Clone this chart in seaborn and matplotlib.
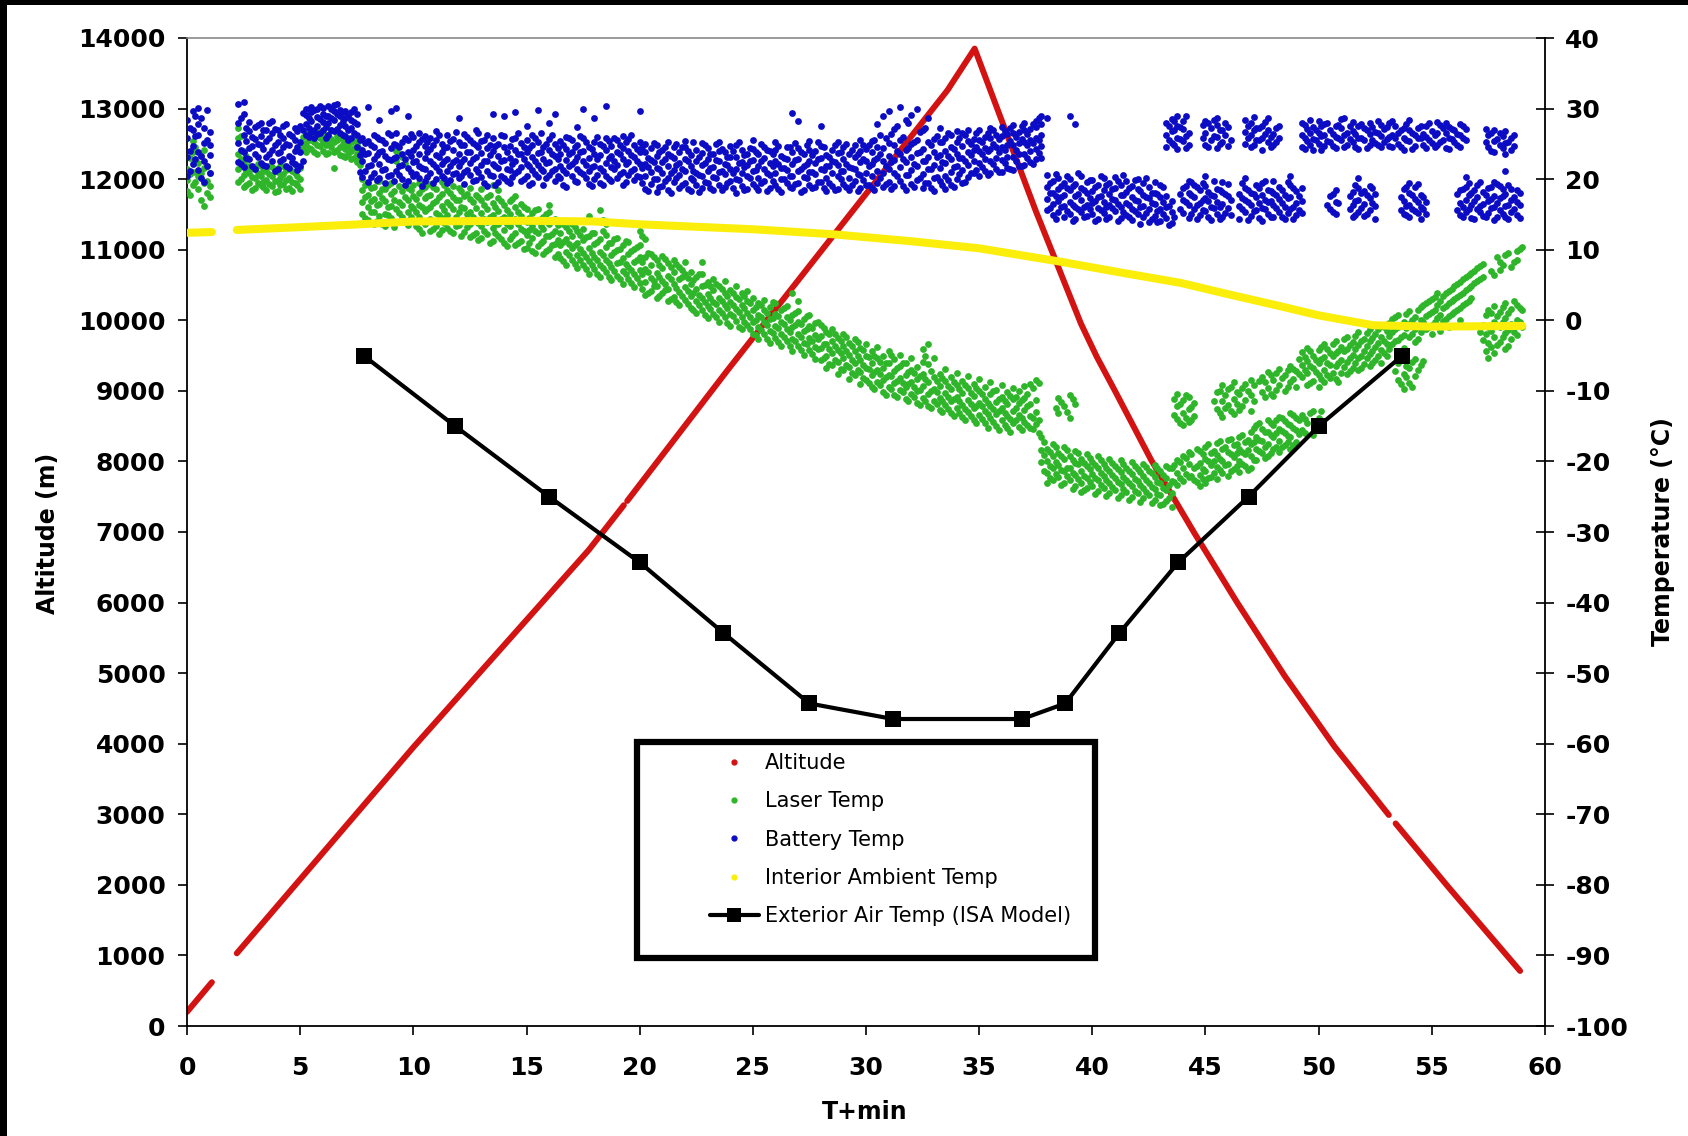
import matplotlib
matplotlib.use("Agg")
import matplotlib.pyplot as plt
import numpy as np
import pandas as pd
import seaborn as sns
from matplotlib.lines import Line2D
from matplotlib.patches import Rectangle

# ---------------- data ----------------
# Altitude (m) vs T+min ; seg marks breaks in the recorded trace
alt_time = [0.0, 1.1, 2.2, 10.0, 17.75, 19.3, 19.45, 23.9, 33.6, 34.8, 37.5, 39.5, 40.2,
            41.0, 42.6, 44.5, 46.4, 48.5, 50.7, 53.1, 53.4, 55.7, 58.9]
alt_m = [200, 620, 1030, 3950, 6745, 7380, 7440, 9300, 13260, 13850, 11550, 9950, 9480,
         9000, 8020, 6990, 6000, 4960, 3960, 2990, 2870, 1980, 780]
alt_seg = [0, 0, 1, 1, 1, 1, 2, 2, 2, 2, 2, 2, 2, 2, 2, 2, 2, 2, 2, 2, 3, 3, 3]

# Interior ambient temperature (deg C)
amb_time = [0.0, 1.1, 2.2, 5.0, 7.0, 10.0, 15.0, 18.0, 20.0, 25.0, 28.5, 32.0, 35.0,
            38.6, 41.2, 43.9, 46.0, 48.3, 50.0, 52.4, 55.0, 59.0]
amb_temp = [12.4, 12.5, 12.8, 13.2, 13.5, 14.0, 14.1, 14.0, 13.6, 12.9, 12.2, 11.2, 10.2,
            8.3, 6.8, 5.3, 3.7, 2.0, 0.7, -0.7, -0.9, -0.8]
amb_seg = [0, 0] + [1] * 20

# Exterior air temperature, ISA model (deg C)
isa_time = [7.8, 11.85, 16.0, 20.0, 23.7, 27.5, 31.2, 36.9, 38.8, 41.2, 43.8, 46.9, 50.0, 53.7]
isa_temp = [-5, -15, -25, -34.3, -44.3, -54.3, -56.5, -56.5, -54.3, -44.3, -34.3, -25, -15, -5]

# Battery temperature readings: (T+min, [readings in deg C])
battery_rows = [
    (0.00, [20.5, 23.2, 25.8, 28.4]), (0.25, [22.1, 24.7, 26.9, 29.6]),
    (0.50, [21.3, 23.9, 26.2, 27.8, 30.1]), (0.75, [19.6, 22.6, 25.1, 27.3]),
    (1.00, [20.8, 23.4, 24.9, 26.7]),
    (2.25, [22.4, 25.1, 27.9, 30.6]), (2.50, [21.7, 23.8, 26.3, 29.2, 31.0]),
    (2.75, [22.9, 24.4, 26.8, 28.1]), (3.00, [21.5, 23.6, 25.7, 27.4]),
    (3.25, [22.3, 24.8, 26.1, 27.9]), (3.50, [21.9, 23.2, 25.4, 27.0]),
    (3.75, [22.6, 24.1, 26.5, 28.3]), (4.00, [21.4, 23.7, 25.2, 26.9]),
    (4.25, [22.8, 24.5, 25.9, 27.6]), (4.50, [21.6, 23.3, 24.9, 26.4]),
    (4.75, [22.2, 24.0, 25.6, 27.2]), (5.00, [21.8, 23.9, 25.3, 27.5]),
    (5.25, [26.2, 27.8, 29.1, 30.0]), (5.50, [26.7, 28.3, 29.5, 30.2]),
    (5.75, [26.4, 27.6, 28.8, 29.9]), (6.00, [26.9, 28.1, 29.3, 30.1]),
    (6.25, [26.3, 27.9, 29.0, 30.3]), (6.50, [26.8, 28.4, 29.6, 30.5]),
    (6.75, [26.5, 27.7, 28.9, 29.8]), (7.00, [26.1, 27.5, 28.6, 29.7]),
    (7.25, [25.8, 27.2, 28.4, 29.5]), (7.50, [24.6, 26.3, 27.8, 29.2]),
    (7.75, [20.3, 22.5, 24.1, 25.9]), (8.00, [19.6, 21.8, 23.7, 25.4, 30.2]),
    (8.25, [20.9, 22.9, 24.6, 26.3]), (8.50, [20.1, 22.2, 23.9, 25.7, 28.4]),
    (8.75, [19.4, 21.5, 23.3, 25.1]), (9.00, [20.6, 22.7, 24.4, 26.2, 29.6]),
    (9.25, [21.2, 23.1, 24.8, 26.5, 30.1]), (9.50, [20.0, 22.0, 23.6, 25.3]),
    (9.75, [19.8, 21.6, 23.8, 25.6, 29.0]), (10.00, [20.5, 22.4, 24.2, 26.0]),
    (10.25, [20.2, 21.9, 23.5, 25.2, 26.6]), (10.50, [19.7, 21.4, 23.0, 24.7, 26.1]),
    (10.75, [20.8, 22.6, 24.3, 25.8]), (11.00, [20.0, 21.7, 23.4, 25.5, 26.8]),
    (11.25, [20.4, 22.1, 23.8, 25.0]), (11.50, [19.5, 21.2, 22.8, 24.6, 26.3]),
    (11.75, [20.7, 22.4, 24.1, 25.7]), (12.00, [20.1, 21.8, 23.6, 25.3, 28.6]),
    (12.25, [19.3, 21.0, 22.9, 24.8, 26.4]), (12.50, [20.6, 22.3, 23.9, 25.6]),
    (12.75, [19.9, 21.5, 23.2, 24.9, 27.0]), (13.00, [20.3, 22.0, 23.7, 25.4]),
    (13.25, [19.0, 21.1, 22.6, 24.4, 26.2]), (13.50, [20.5, 22.2, 24.0, 25.8, 29.3]),
    (13.75, [19.6, 21.6, 23.3, 25.0]), (14.00, [20.2, 22.7, 24.5, 26.1, 28.9]),
    (14.25, [19.4, 21.3, 23.0, 24.7]), (14.50, [20.8, 22.5, 24.2, 25.9, 29.5]),
    (14.75, [19.8, 21.7, 23.5, 25.1]), (15.00, [20.4, 22.1, 23.8, 25.5, 27.5]),
    (15.25, [19.5, 21.3, 23.1, 24.8, 26.2]), (15.50, [20.3, 22.0, 23.7, 25.3, 29.8]),
    (15.75, [19.2, 21.1, 22.9, 24.5]), (16.00, [20.6, 22.4, 24.1, 25.7, 28.0]),
    (16.25, [19.7, 21.5, 23.3, 25.0, 29.2]), (16.50, [20.1, 21.9, 23.6, 25.4]),
    (16.75, [18.9, 20.8, 22.7, 24.3, 26.0]), (17.00, [20.4, 22.2, 23.9, 25.6]),
    (17.25, [19.6, 21.4, 23.2, 24.9, 27.4]), (17.50, [20.7, 22.5, 24.0, 25.8, 29.9]),
    (17.75, [19.3, 21.2, 23.0, 24.6]), (18.00, [20.0, 21.8, 23.5, 25.2, 28.7]),
    (18.25, [19.5, 21.6, 23.4, 25.0]), (18.50, [20.5, 22.3, 24.2, 25.9, 30.3]),
    (18.75, [19.8, 21.7, 23.3, 24.7]), (19.00, [20.2, 22.0, 23.8, 25.5]),
    (19.25, [19.1, 21.0, 22.8, 24.4, 26.1]), (19.50, [20.6, 22.4, 24.0, 25.7]),
    (19.75, [19.9, 21.5, 23.1, 24.8]), (20.00, [20.3, 22.1, 23.9, 25.3, 29.7]),
    (20.25, [18.6, 20.4, 22.1, 23.8, 25.0]), (20.50, [19.3, 21.0, 22.7, 24.4]),
    (20.75, [18.2, 20.0, 21.6, 23.3, 24.8]), (21.00, [19.0, 20.8, 22.4, 24.1]),
    (21.25, [18.5, 20.2, 21.9, 23.6, 25.2]), (21.50, [19.6, 21.3, 23.0, 24.6]),
    (21.75, [18.8, 20.6, 22.3, 23.9]), (22.00, [19.4, 21.1, 22.8, 24.5, 25.4]),
    (22.25, [18.3, 20.1, 21.8, 23.4]), (22.50, [19.1, 20.9, 22.6, 24.2]),
    (22.75, [18.7, 20.5, 22.0, 23.7, 25.1]), (23.00, [19.5, 21.2, 22.9, 24.4]),
    (23.25, [18.4, 20.3, 21.7, 23.5]), (23.50, [19.2, 21.0, 22.5, 24.0, 25.3]),
    (23.75, [18.9, 20.7, 22.2, 23.8]), (24.00, [19.7, 21.4, 23.1, 24.7]),
    (24.25, [18.1, 20.0, 21.5, 23.2, 24.9]), (24.50, [19.0, 20.8, 22.4, 24.1]),
    (24.75, [18.6, 20.4, 22.0, 23.6]), (25.00, [19.3, 21.1, 22.7, 24.3, 25.5]),
    (25.25, [18.5, 20.2, 21.9, 23.5]), (25.50, [19.8, 21.5, 23.0, 24.6]),
    (25.75, [18.8, 20.6, 22.3, 24.0]), (26.00, [19.1, 20.9, 22.5, 24.2, 25.2]),
    (26.25, [18.2, 20.0, 21.6, 23.3]), (26.50, [19.5, 21.3, 22.9, 24.5]),
    (26.75, [18.7, 20.5, 22.1, 23.8, 29.4]), (27.00, [19.4, 21.1, 22.8, 24.4, 28.3]),
    (27.25, [18.4, 20.3, 21.9, 23.6]), (27.50, [19.2, 21.0, 22.6, 24.1, 25.4]),
    (27.75, [18.9, 20.7, 22.3, 24.0]), (28.00, [19.6, 21.4, 23.0, 24.7, 27.6]),
    (28.25, [18.3, 20.1, 21.8, 23.4]), (28.50, [19.0, 20.8, 22.5, 24.2]),
    (28.75, [18.6, 20.4, 22.0, 23.7, 25.3]), (29.00, [19.3, 21.2, 22.9, 24.5]),
    (29.25, [18.5, 20.2, 21.7, 23.5]), (29.50, [19.7, 21.5, 23.1, 24.8]),
    (29.75, [18.8, 20.6, 22.4, 24.0, 25.6]), (30.00, [19.1, 20.9, 22.6, 24.3]),
    (30.25, [18.7, 20.5, 22.2, 23.9, 25.4]), (30.50, [19.4, 21.2, 23.0, 24.6, 27.8]),
    (30.75, [18.9, 20.8, 22.6, 24.4, 28.9]), (31.00, [19.6, 21.5, 23.3, 25.1, 29.6]),
    (31.25, [19.0, 20.9, 22.7, 24.8, 27.1]), (31.50, [19.8, 21.7, 23.6, 25.5, 30.2]),
    (31.75, [18.5, 20.6, 22.4, 24.2, 28.4]), (32.00, [19.3, 21.3, 23.1, 25.0, 29.1]),
    (32.25, [19.9, 21.8, 23.7, 25.6, 30.0]), (32.50, [18.8, 20.7, 22.5, 24.3, 26.9]),
    (32.75, [19.5, 21.4, 23.2, 25.2, 28.6]), (33.00, [18.3, 20.2, 22.0, 23.8, 25.7]),
    (33.25, [19.7, 21.6, 23.4, 25.3, 27.3]), (33.50, [18.6, 20.5, 22.3, 24.0, 25.9]),
    (33.75, [19.2, 21.0, 22.8, 24.6, 26.2]), (34.00, [20.0, 21.9, 23.5, 25.2, 26.8]),
    (34.25, [19.4, 21.3, 23.0, 24.7, 26.5]), (34.50, [20.3, 22.0, 23.8, 25.4, 27.0]),
    (34.75, [20.8, 22.5, 24.1, 25.7]), (35.00, [20.5, 22.3, 24.0, 25.6, 26.9]),
    (35.25, [21.1, 22.8, 24.4, 26.0]), (35.50, [20.9, 22.6, 24.3, 25.9, 27.2]),
    (35.75, [21.4, 23.0, 24.6, 26.2]), (36.00, [21.0, 22.7, 24.5, 26.1, 27.4]),
    (36.25, [21.6, 23.2, 24.8, 26.4]), (36.50, [21.3, 23.1, 24.9, 26.6, 27.7]),
    (36.75, [21.8, 23.5, 25.1, 26.7]), (37.00, [22.0, 23.6, 25.3, 26.9, 28.0]),
    (37.25, [22.4, 24.0, 25.6, 27.1]), (37.50, [22.8, 24.3, 25.8, 27.4, 28.3]),
    (37.75, [23.0, 24.7, 26.2, 27.8, 29.0]),
    (38.00, [15.6, 17.2, 18.9, 20.6, 28.6]), (38.25, [14.9, 16.5, 18.1, 19.8]),
    (38.50, [15.3, 16.9, 18.6, 20.2]), (38.75, [14.6, 16.2, 17.8, 19.5]),
    (39.00, [15.1, 16.7, 18.4, 20.0, 28.9]), (39.25, [14.4, 16.0, 17.6, 19.3, 27.8]),
    (39.50, [15.4, 17.0, 18.7, 20.4]), (39.75, [14.8, 16.4, 18.0, 19.6]),
    (40.00, [15.0, 16.6, 18.3, 19.9]), (40.25, [14.3, 15.9, 17.5, 19.1]),
    (40.50, [15.2, 16.8, 18.5, 20.1]), (40.75, [14.7, 16.3, 17.9, 19.4]),
    (41.00, [15.5, 17.1, 18.8, 20.3]), (41.25, [14.5, 16.1, 17.7, 19.2]),
    (41.50, [14.9, 16.6, 18.2, 19.7]), (41.75, [14.2, 15.8, 17.4, 19.0]),
    (42.00, [15.1, 16.9, 18.6, 20.0]), (42.25, [14.6, 16.2, 17.8, 19.5]),
    (42.50, [13.9, 15.7, 17.3, 18.9]), (42.75, [14.8, 16.5, 18.1, 19.6]),
    (43.00, [14.1, 15.8, 17.5, 19.1]), (43.25, [14.5, 16.0, 17.6, 24.6, 26.3, 27.9]),
    (43.50, [13.8, 15.4, 16.9, 25.1, 26.8, 28.5]), (43.75, [24.3, 25.9, 27.6, 29.0]),
    (44.00, [15.2, 17.0, 18.7, 25.4, 27.1, 28.2]), (44.25, [14.5, 16.3, 18.1, 19.8, 24.8, 26.5]),
    (44.50, [15.8, 17.5, 19.2]), (44.75, [14.9, 16.6, 18.4]),
    (45.00, [15.5, 17.3, 19.0, 20.4, 24.9, 26.6, 28.2]), (45.25, [14.2, 16.0, 17.8, 25.5, 27.3]),
    (45.50, [15.1, 16.8, 18.6, 24.4, 26.0, 27.7, 28.7]), (45.75, [14.7, 16.5, 18.2, 19.6, 25.2, 26.9]),
    (46.00, [15.9, 17.6, 19.3, 24.7, 27.4]), (46.50, [14.4, 16.2, 17.9]),
    (46.75, [15.3, 17.1, 18.8, 20.2, 25.0, 26.7, 28.4]), (47.00, [14.8, 16.4, 18.0, 24.5, 26.2, 27.9]),
    (47.25, [15.6, 17.4, 19.1, 25.6, 27.2]), (47.50, [14.1, 15.9, 17.7, 19.4, 24.2, 25.8, 27.5]),
    (47.75, [15.0, 16.7, 18.5, 25.3, 27.0, 28.6]), (48.00, [14.6, 16.3, 18.1, 19.7, 24.8, 26.4]),
    (48.25, [15.4, 17.2, 18.9, 25.9, 27.6]), (48.50, [14.3, 16.1, 17.8]),
    (48.75, [15.7, 17.5, 19.2, 20.5]), (49.00, [14.9, 16.6, 18.3]),
    (49.25, [15.2, 16.9, 18.7, 24.6, 26.3, 28.0]), (49.50, [25.4, 27.1]),
    (49.75, [24.1, 25.7, 27.4]), (50.00, [25.0, 26.6, 28.3]),
    (50.25, [24.7, 26.2, 27.8]), (50.50, [15.8, 17.6, 25.3, 26.9]),
    (50.75, [15.0, 16.8, 18.5, 24.4, 26.0, 27.6]), (51.00, [25.6, 27.3, 28.5]),
    (51.25, [24.9, 26.5]), (51.50, [14.6, 16.4, 18.2, 25.2, 26.8, 28.1]),
    (51.75, [15.3, 17.0, 18.8, 20.1, 24.3, 25.9, 27.5]), (52.00, [14.8, 16.5, 18.3, 25.5, 27.2]),
    (52.25, [15.6, 17.3, 19.0, 24.8, 26.4, 28.0]), (52.50, [14.4, 16.2, 17.9, 25.1, 26.7]),
    (52.75, [24.5, 26.1, 27.7]), (53.00, [25.7, 27.4]),
    (53.25, [24.6, 26.3, 28.2]), (53.50, [25.0, 26.6]),
    (53.75, [15.1, 16.9, 18.6, 24.2, 25.8, 27.3]), (54.00, [14.7, 16.4, 18.1, 19.5, 25.4, 27.0, 28.4]),
    (54.25, [15.5, 17.2, 18.9, 24.7, 26.2]), (54.50, [14.3, 16.0, 17.7, 25.8, 27.5]),
    (54.75, [15.0, 16.7, 24.4, 26.0, 27.6]), (55.00, [25.1, 26.8]),
    (55.25, [24.9, 26.5, 28.1]), (55.50, [25.6, 27.2]),
    (55.75, [24.3, 25.9, 27.4]), (56.00, [25.2, 26.9]),
    (56.25, [14.9, 16.6, 18.4, 24.6, 26.3, 27.8]), (56.50, [15.4, 17.1, 18.9, 20.3, 25.5, 27.1]),
    (56.75, [14.5, 16.3, 18.0]), (57.00, [15.7, 17.4, 19.1]),
    (57.25, [14.8, 16.5, 18.2]), (57.50, [15.2, 16.9, 18.7, 24.5, 26.2]),
    (57.75, [14.2, 16.0, 17.6, 19.6, 23.8, 25.4, 27.0]), (58.00, [15.6, 17.3, 19.0, 24.9, 26.5]),
    (58.25, [14.6, 16.2, 17.9, 21.1, 23.5, 25.1, 26.8]), (58.50, [15.3, 17.0, 18.6, 24.2, 25.8]),
    (58.75, [14.9, 16.7, 18.4]),
]

# Further battery readings logged between the rows above
battery_rows_b = [
    (0.125, [24.0, 27.3, 21.2]), (0.375, [26.1, 22.9, 29.0]), (0.625, [23.3, 28.7, 20.2]),
    (0.875, [25.6, 21.9, 29.8]),
    (2.375, [24.2, 28.6, 22.1]), (2.625, [25.4, 27.3, 23.0]), (2.875, [21.8, 26.0, 24.7]),
    (3.125, [23.1, 27.7, 25.0]), (3.375, [22.0, 24.3, 26.9]), (3.625, [23.5, 25.9, 28.0]),
    (3.875, [21.2, 24.8, 27.1]), (4.125, [22.5, 26.3, 23.9]), (4.375, [21.9, 25.0, 27.8]),
    (4.625, [23.0, 26.1, 22.4]), (4.875, [24.6, 21.3, 26.8]), (5.125, [27.0, 29.4, 22.6]),
    (5.375, [27.3, 28.7, 26.0]), (5.625, [27.0, 29.8, 25.8]), (5.875, [28.5, 26.6, 30.4]),
    (6.125, [27.4, 29.0, 25.9]), (6.375, [28.6, 26.9, 30.0]), (6.625, [27.1, 29.2, 30.7]),
    (6.875, [28.2, 26.2, 29.5]), (7.125, [27.0, 28.9, 25.5]), (7.375, [26.6, 28.1, 29.9]),
    (7.625, [23.4, 25.5, 21.0]),
    (7.875, [21.1, 23.6, 25.1]), (8.125, [22.0, 24.9, 20.3]), (8.375, [19.9, 23.4, 26.0]),
    (8.625, [21.3, 24.0, 25.5]), (8.875, [20.4, 22.8, 26.6]), (9.125, [19.7, 23.0, 25.0]),
    (9.375, [21.9, 24.5, 20.6]), (9.625, [22.8, 25.8, 19.2]), (9.875, [21.0, 23.3, 26.4]),
    (10.125, [20.7, 24.7, 22.6]), (10.375, [21.6, 25.7, 19.0]), (10.625, [20.3, 23.9, 25.2]),
    (10.875, [22.2, 24.9, 19.4]), (11.125, [21.1, 23.1, 26.2]), (11.375, [20.2, 24.4, 22.5]),
    (11.625, [21.8, 25.4, 19.9]), (11.875, [20.9, 22.7, 26.7]), (12.125, [22.4, 24.9, 20.4]),
    (12.375, [21.3, 23.9, 26.0]), (12.625, [19.7, 22.8, 25.1]), (12.875, [21.0, 24.5, 26.5]),
    (13.125, [22.5, 25.6, 19.5]), (13.375, [20.6, 23.4, 24.9]), (13.625, [21.9, 24.7, 19.1]),
    (13.875, [20.4, 22.5, 26.3]), (14.125, [21.5, 23.9, 19.8]), (14.375, [22.1, 25.7, 20.3]),
    (14.625, [21.2, 23.6, 26.6]), (14.875, [20.0, 22.9, 24.6]), (15.125, [21.8, 24.4, 19.2]),
    (15.375, [20.7, 22.6, 25.9]), (15.625, [21.4, 23.9, 26.5]), (15.875, [20.1, 22.3, 25.0]),
    (16.125, [21.2, 23.5, 26.3]), (16.375, [20.4, 22.8, 24.4]), (16.625, [19.2, 21.3, 24.8]),
    (16.875, [21.8, 23.6, 25.9]), (17.125, [19.8, 22.6, 24.5]), (17.375, [21.0, 23.8, 26.1]),
    (17.625, [20.1, 22.0, 25.2]), (17.875, [21.7, 24.3, 19.0]), (18.125, [20.6, 22.8, 26.0]),
    (18.375, [21.2, 24.7, 19.2]), (18.625, [20.0, 23.0, 25.4]), (18.875, [21.4, 22.6, 25.9]),
    (19.125, [20.7, 23.6, 24.9]), (19.375, [19.6, 22.2, 25.3]), (19.625, [21.1, 23.4, 26.2]),
    (19.875, [20.5, 22.6, 24.3]),
    (20.125, [19.4, 21.6, 24.6]), (20.375, [18.3, 21.7, 23.0]), (20.625, [20.0, 22.4, 25.1]),
    (20.875, [18.9, 21.4, 23.9]), (21.125, [19.8, 22.9, 24.5]), (21.375, [18.1, 20.9, 23.3]),
    (21.625, [20.2, 22.0, 25.0]), (21.875, [19.2, 21.5, 24.6]), (22.125, [18.6, 22.5, 24.0]),
    (22.375, [19.9, 21.2, 25.3]), (22.625, [18.2, 20.6, 23.2]), (22.875, [19.6, 22.3, 24.8]),
    (23.125, [18.8, 21.6, 23.6]), (23.375, [20.1, 22.7, 25.0]), (23.625, [18.5, 21.1, 24.3]),
    (23.875, [19.4, 22.0, 23.1]), (24.125, [18.7, 20.9, 24.0]), (24.375, [19.9, 22.3, 25.2]),
    (24.625, [18.4, 21.7, 23.4]), (24.875, [20.2, 22.5, 24.4]), (25.125, [18.9, 21.3, 23.8]),
    (25.375, [19.5, 22.6, 25.0]), (25.625, [18.3, 20.8, 24.2]), (25.875, [19.7, 21.9, 23.6]),
    (26.125, [18.6, 22.2, 24.7]), (26.375, [20.0, 21.6, 23.0]), (26.625, [18.9, 20.5, 24.6]),
    (26.875, [19.3, 22.7, 25.1]), (27.125, [18.2, 21.4, 23.9]), (27.375, [20.1, 22.1, 24.8]),
    (27.625, [18.7, 21.0, 23.4]), (27.875, [19.6, 22.9, 25.3]), (28.125, [18.8, 21.3, 24.5]),
    (28.375, [19.5, 21.9, 23.2]), (28.625, [18.4, 22.4, 24.9]), (28.875, [20.0, 21.1, 23.8]),
    (29.125, [18.9, 22.2, 25.0]), (29.375, [19.2, 21.6, 24.2]), (29.625, [18.3, 20.7, 23.5]),
    (29.875, [19.9, 22.8, 24.8]),
    (30.125, [19.2, 21.9, 24.9]), (30.375, [18.4, 22.7, 25.6]), (30.625, [20.1, 23.6, 26.2]),
    (30.875, [19.3, 21.8, 25.9]), (31.125, [18.6, 22.4, 26.4]), (31.375, [20.4, 24.0, 27.5]),
    (31.625, [19.0, 22.9, 26.0]), (31.875, [20.6, 24.4, 27.9]), (32.125, [18.9, 22.1, 25.3]),
    (32.375, [20.2, 23.8, 26.7]), (32.625, [19.4, 22.6, 27.2]), (32.875, [18.7, 21.5, 24.9]),
    (33.125, [20.3, 23.1, 26.1]), (33.375, [19.1, 22.4, 25.2]), (33.625, [19.9, 23.3, 26.6]),
    (33.875, [18.9, 21.7, 24.3]), (34.125, [20.7, 23.0, 25.9]), (34.375, [19.6, 22.6, 26.2]),
    (34.625, [20.9, 23.4, 25.0]), (34.875, [21.3, 24.6, 26.5]),
    (35.125, [21.7, 23.5, 25.3]), (35.375, [20.6, 24.0, 26.6]), (35.625, [22.1, 25.0, 27.0]),
    (35.875, [21.0, 23.8, 25.7]), (36.125, [22.3, 24.1, 26.8]), (36.375, [21.5, 25.4, 27.3]),
    (36.625, [22.5, 24.2, 26.0]), (36.875, [21.9, 25.7, 27.5]), (37.125, [23.0, 24.9, 26.4]),
    (37.375, [22.2, 25.1, 27.8]), (37.625, [23.7, 25.5, 28.6]),
    (38.125, [15.9, 18.0, 19.4]), (38.375, [14.3, 17.6, 20.7]), (38.625, [16.0, 17.4, 19.0]),
    (38.875, [15.5, 18.8, 20.5]), (39.125, [14.1, 16.4, 19.0]), (39.375, [15.8, 17.9, 20.8]),
    (39.625, [14.6, 16.1, 18.5]), (39.875, [15.7, 17.3, 19.9]), (40.125, [14.0, 16.9, 18.9]),
    (40.375, [15.6, 17.6, 20.5]), (40.625, [14.4, 16.0, 19.2]), (40.875, [15.9, 17.2, 18.6]),
    (41.125, [14.1, 16.5, 19.7]), (41.375, [15.3, 17.8, 20.6]), (41.625, [14.6, 16.3, 18.7]),
    (41.875, [15.5, 17.0, 19.9]), (42.125, [13.7, 16.0, 18.3]), (42.375, [15.2, 17.4, 20.2]),
    (42.625, [14.3, 16.6, 18.0]), (42.875, [13.9, 15.5, 17.9]), (43.125, [15.1, 16.8, 18.9]),
    (43.375, [13.5, 16.2, 25.5, 27.6]), (43.625, [24.8, 26.9, 28.3, 14.6]),
    (43.875, [25.7, 27.4, 15.8, 17.9]), (44.125, [24.4, 26.1, 28.9, 16.7, 19.0]),
    (44.375, [15.1, 17.8, 19.6]), (44.625, [14.4, 16.4, 18.9]),
    (44.875, [15.6, 17.0, 19.5, 25.8, 27.7]), (45.125, [14.7, 16.9, 18.2, 24.5, 27.9]),
    (45.375, [15.9, 17.6, 19.8, 26.1, 28.4]), (45.625, [14.3, 16.1, 18.5, 25.0, 27.0]),
    (45.875, [15.2, 17.9, 26.3, 28.0]), (46.125, [14.9, 17.1, 25.5]),
    (46.625, [15.7, 17.3, 19.5]), (46.875, [14.2, 16.8, 18.4, 25.9, 27.6]),
    (47.125, [15.5, 17.9, 24.9, 26.9, 28.8]), (47.375, [14.5, 16.6, 18.7, 25.5, 27.3]),
    (47.625, [15.8, 17.0, 19.8, 26.4, 28.1]), (47.875, [14.7, 16.9, 18.3, 24.6, 26.0]),
    (48.125, [15.9, 17.7, 25.3, 27.2]), (48.375, [14.6, 16.6, 18.5]),
    (48.625, [15.2, 17.3, 19.6]), (48.875, [14.4, 16.1, 18.8]), (49.125, [15.6, 17.6]),
    (49.375, [25.8, 27.7, 24.3]), (49.625, [24.9, 26.6, 28.4]), (49.875, [25.6, 27.0]),
    (50.125, [24.2, 26.1, 27.5]), (50.375, [25.4, 28.0, 16.4]), (50.625, [24.7, 26.4, 15.3, 17.9]),
    (50.875, [25.9, 27.7, 16.6]), (51.125, [24.5, 26.2, 28.6]),
    (51.375, [25.7, 27.5, 15.8, 17.6]), (51.625, [24.6, 26.4, 14.9, 16.9, 19.2]),
    (51.875, [25.9, 27.8, 15.9, 18.1]), (52.125, [24.4, 26.9, 15.1, 17.7]),
    (52.375, [25.6, 27.4, 16.6, 18.8]), (52.625, [24.9, 26.5, 28.3]), (52.875, [25.3, 27.1]),
    (53.125, [24.7, 26.0, 27.9]), (53.375, [25.8, 27.6]), (53.625, [24.5, 26.9, 15.6, 17.5]),
    (53.875, [25.5, 27.8, 14.9, 16.2, 18.9]), (54.125, [24.3, 26.6, 15.8, 17.8]),
    (54.375, [25.9, 27.2, 15.2, 16.8, 19.3]), (54.625, [24.8, 26.4, 15.7, 17.4]),
    (54.875, [25.6, 27.9]), (55.125, [24.6, 26.2]), (55.375, [25.3, 27.7]),
    (55.625, [24.4, 26.6, 28.0]), (55.875, [25.7, 27.1]), (56.125, [24.9, 26.4, 15.6, 17.9]),
    (56.375, [25.8, 27.5, 14.6, 16.0, 18.6]), (56.625, [15.8, 17.7, 19.4]),
    (56.875, [14.4, 16.9, 18.5]), (57.125, [15.4, 16.2, 19.6]), (57.375, [14.6, 17.8, 25.3, 27.1]),
    (57.625, [15.9, 17.2, 18.9, 24.0, 26.6]), (57.875, [14.7, 16.6, 19.3, 25.7]),
    (58.125, [15.1, 17.6, 18.6, 24.4, 26.1]), (58.375, [14.3, 16.4, 19.2, 25.2]),
    (58.625, [15.7, 17.5, 24.7, 26.3]), (58.875, [14.5, 16.3, 18.1]),
]

# Laser temperature readings: (T+min, [readings in deg C])
laser_rows = [
    (0.00, [18.3, 19.9, 21.5]), (0.25, [19.2, 21.0, 23.8, 25.4]), (0.50, [18.6, 20.4, 22.3]),
    (0.75, [16.2, 19.5, 21.6, 24.1]), (1.00, [17.4, 19.0, 20.8]),
    (2.25, [19.6, 21.4, 23.5, 25.8, 27.2]), (2.50, [18.9, 20.6, 22.4, 24.0]),
    (2.75, [19.4, 20.8, 21.9]), (3.00, [18.7, 20.2, 21.5]), (3.25, [19.2, 20.5, 21.8]),
    (3.50, [18.5, 19.9, 21.2]), (3.75, [19.0, 20.4, 21.7]), (4.00, [18.3, 19.7, 21.0]),
    (4.25, [19.3, 20.7, 21.9]), (4.50, [18.8, 20.1, 21.4]), (4.75, [19.5, 20.9, 22.1]),
    (5.00, [18.6, 20.0, 21.6]),
    (5.25, [23.8, 25.1, 26.4]), (5.50, [24.3, 25.6, 26.8]), (5.75, [23.5, 24.9, 26.2]),
    (6.00, [24.0, 25.3, 26.5]), (6.25, [23.7, 25.0, 26.3]), (6.50, [23.9, 25.2, 21.6]),
    (6.75, [23.4, 24.6, 25.8]), (7.00, [23.1, 24.3, 25.5]), (7.25, [22.8, 24.0, 25.2]),
    (7.50, [22.4, 23.6, 24.8]),
    (7.75, [15.1, 16.8, 18.5, 20.0]), (8.00, [14.2, 16.0, 17.7, 19.3]),
    (8.25, [13.6, 15.4, 17.2, 18.9]), (8.50, [14.8, 16.5, 18.1, 19.7]),
    (8.75, [13.3, 15.0, 16.9, 18.6]), (9.00, [14.5, 16.2, 17.9, 19.5]),
    (9.25, [13.9, 15.7, 22.6, 24.0]), (9.50, [14.7, 16.4, 18.3, 23.1]),
    (9.75, [13.5, 15.3, 17.0, 18.8]), (10.00, [14.1, 15.9, 17.6, 19.2]),
    (10.25, [12.9, 14.6, 16.3, 18.0, 19.5]), (10.50, [13.7, 15.5, 17.3, 18.9]),
    (10.75, [12.6, 14.3, 16.1, 17.8, 19.3]), (11.00, [13.4, 15.2, 16.9, 18.6]),
    (11.25, [12.8, 14.5, 16.2, 17.9, 19.6]), (11.50, [13.1, 14.9, 16.7, 18.4]),
    (11.75, [12.3, 14.0, 15.8, 17.5, 19.0]), (12.00, [13.5, 15.3, 17.0, 18.7]),
    (12.25, [12.5, 14.2, 15.9, 17.6]), (12.50, [11.8, 13.6, 15.4, 17.2, 18.8]),
    (12.75, [12.4, 14.1, 15.9, 17.7]), (13.00, [11.6, 13.4, 15.2, 17.0, 18.6]),
    (13.25, [12.2, 13.9, 15.7, 17.4]), (13.50, [11.3, 13.1, 14.9, 16.6, 19.2]),
    (13.75, [11.9, 13.7, 15.5, 17.3, 18.5]), (14.00, [10.9, 12.8, 14.6, 16.4]),
    (14.25, [11.5, 13.3, 15.1, 16.9]), (14.50, [10.6, 12.4, 14.3, 16.1, 17.6]),
    (14.75, [11.2, 13.0, 14.8, 16.5]), (15.00, [10.3, 12.1, 13.9, 15.7]),
    (15.25, [9.8, 11.6, 13.4, 15.2]), (15.50, [10.5, 12.3, 14.1, 15.8]),
    (15.75, [9.4, 11.2, 13.0, 14.7]), (16.00, [10.1, 11.9, 13.7, 15.3, 16.4]),
    (16.25, [9.0, 10.8, 12.6, 14.4]), (16.50, [8.8, 10.6, 12.4, 14.1]),
    (16.75, [7.9, 9.7, 11.5, 13.2]), (17.00, [8.5, 10.2, 12.0, 13.6]),
    (17.25, [7.4, 9.2, 11.0, 12.7]), (17.50, [7.9, 9.6, 11.4, 12.9]),
    (17.75, [6.6, 8.4, 10.2, 11.9, 14.8]), (18.00, [7.2, 9.0, 10.8, 12.4]),
    (18.25, [6.1, 7.9, 9.7, 11.5, 15.6]), (18.50, [6.8, 8.6, 10.4, 12.1, 13.7]),
    (18.75, [5.7, 7.5, 9.3, 11.0]), (19.00, [6.3, 8.1, 9.9, 11.6]),
    (19.25, [5.2, 7.0, 8.8, 10.6]), (19.50, [5.8, 7.6, 9.4, 11.1]),
    (19.75, [4.7, 6.5, 8.3, 10.1]), (20.00, [5.3, 7.1, 8.9, 10.7, 12.6]),
    (20.25, [3.6, 5.4, 7.2, 9.0, 11.5]), (20.50, [4.2, 6.0, 7.8, 9.4]),
    (20.75, [3.1, 4.9, 6.7, 8.5]), (21.00, [3.8, 5.6, 7.4, 9.1]),
    (21.25, [2.7, 4.5, 6.3, 8.1]), (21.50, [3.3, 5.1, 6.9, 8.6]),
    (21.75, [2.2, 4.0, 5.8, 7.6]), (22.00, [2.9, 4.7, 6.5, 8.2]),
    (22.25, [1.8, 3.5, 5.2, 6.9]), (22.50, [1.0, 2.7, 4.4, 6.1]),
    (22.75, [1.5, 3.2, 4.9, 6.5, 8.3]), (23.00, [0.3, 2.0, 3.7, 5.4]),
    (23.25, [0.9, 2.6, 4.3, 5.9]), (23.50, [-0.2, 1.5, 3.2, 4.9]),
    (23.75, [0.4, 2.1, 3.8, 5.5]), (24.00, [-0.8, 0.9, 2.6, 4.3]),
    (24.25, [-0.1, 1.6, 3.3, 4.8]), (24.50, [-1.3, 0.4, 2.1, 3.8]),
    (24.75, [-0.7, 1.0, 2.7, 4.2]), (25.00, [-1.9, -0.2, 1.5, 3.2]),
    (25.25, [-2.6, -0.9, 0.8, 2.5]), (25.50, [-1.9, -0.3, 1.4, 2.9]),
    (25.75, [-3.2, -1.5, 0.2, 1.9]), (26.00, [-2.5, -0.8, 0.9, 2.4]),
    (26.25, [-3.7, -2.0, -0.3, 1.4]), (26.50, [-3.0, -1.3, 0.4, 2.0]),
    (26.75, [-4.3, -2.6, -0.9, 0.8, 3.9]), (27.00, [-3.6, -1.9, -0.2, 1.3, 2.8]),
    (27.25, [-4.9, -3.2, -1.5, 0.2]), (27.50, [-4.2, -2.5, -0.8, 0.7]),
    (27.75, [-5.5, -3.8, -2.1, -0.4]), (28.00, [-5.6, -3.9, -2.2, -0.6]),
    (28.25, [-6.8, -5.1, -3.4, -1.7]), (28.50, [-6.3, -4.6, -2.9, -1.3]),
    (28.75, [-7.6, -5.9, -4.2, -2.5]), (29.00, [-7.0, -5.3, -3.6, -2.0]),
    (29.25, [-8.3, -6.6, -4.9, -3.2]), (29.50, [-7.7, -6.0, -4.3, -2.7]),
    (29.75, [-9.0, -7.3, -5.6, -3.9]), (30.00, [-8.4, -6.7, -5.0, -3.4]),
    (30.25, [-9.5, -7.8, -6.1, -4.4]), (30.50, [-8.8, -7.1, -5.4, -3.8]),
    (30.75, [-10.1, -8.4, -6.7, -5.0]), (31.00, [-9.4, -7.7, -6.0, -4.3]),
    (31.25, [-10.6, -8.9, -7.2, -5.5]), (31.50, [-9.9, -8.2, -6.5, -4.9]),
    (31.75, [-11.2, -9.5, -7.8, -6.1]), (32.00, [-10.5, -8.8, -7.1, -5.4]),
    (32.25, [-11.7, -10.0, -8.3, -6.6]), (32.50, [-11.0, -9.3, -7.6, -5.9, -4.0]),
    (32.75, [-12.2, -10.5, -8.8, -6.2, -3.4]), (33.00, [-11.5, -9.8, -8.1, -5.3]),
    (33.25, [-12.7, -11.0, -9.3, -7.6]), (33.50, [-12.0, -10.3, -8.6, -6.9]),
    (33.75, [-13.2, -11.5, -9.8, -8.1]), (34.00, [-12.5, -10.8, -9.1, -7.4]),
    (34.25, [-13.7, -12.0, -10.3, -8.6]), (34.50, [-13.0, -11.3, -9.6, -7.9]),
    (34.75, [-14.1, -12.4, -10.7, -9.0]), (35.00, [-13.4, -11.7, -10.0, -8.3]),
    (35.25, [-14.5, -12.8, -11.1, -9.4]), (35.50, [-13.8, -12.1, -10.4, -8.8]),
    (35.75, [-15.0, -13.3, -11.6, -9.9]), (36.00, [-14.2, -12.5, -10.8, -9.2]),
    (36.25, [-15.3, -13.6, -11.9, -10.2]), (36.50, [-14.6, -12.9, -11.2, -9.6]),
    (36.75, [-15.1, -13.4, -11.7, -10.0]), (37.00, [-14.4, -12.7, -11.0, -9.3]),
    (37.25, [-15.2, -13.5, -11.8, -9.0]), (37.50, [-14.7, -13.0, -11.3, -8.4]),
    (37.75, [-16.5, -18.4, -20.1]),
    (38.00, [-18.2, -19.9, -21.6, -23.0]), (38.25, [-17.5, -19.3, -21.0, -22.6]),
    (38.50, [-18.8, -20.5, -22.2, -11.0, -13.2]), (38.75, [-18.0, -19.7, -21.4, -23.1, -12.1]),
    (39.00, [-19.3, -21.0, -22.7, -10.6, -13.8]), (39.25, [-18.5, -20.2, -21.9, -23.5, -11.9]),
    (39.50, [-19.7, -21.4, -23.1, -24.4]), (39.75, [-18.9, -20.6, -22.3, -23.8]),
    (40.00, [-20.1, -21.8, -23.5]), (40.25, [-19.3, -21.0, -22.7, -24.2]),
    (40.50, [-20.4, -22.1, -23.8]), (40.75, [-19.6, -21.3, -23.0, -24.5]),
    (41.00, [-20.7, -22.4, -24.1]), (41.25, [-19.8, -21.5, -23.2, -24.7]),
    (41.50, [-20.9, -22.6, -24.3]), (41.75, [-20.1, -21.8, -23.5, -25.0]),
    (42.00, [-21.1, -22.8, -24.5]), (42.25, [-20.3, -22.0, -23.7, -25.2]),
    (42.50, [-21.3, -23.0, -24.7]), (42.75, [-20.5, -22.2, -23.9, -25.4]),
    (43.00, [-21.4, -23.1, -24.8, -26.2]), (43.25, [-20.6, -22.3, -24.0, -25.6]),
    (43.50, [-21.0, -22.8, -24.5, -26.5]),
    (43.75, [-10.4, -12.2, -14.0, -19.8, -21.6, -23.4]), (44.00, [-11.3, -13.1, -14.9, -19.2, -21.0, -22.8]),
    (44.25, [-10.8, -12.6, -14.4, -18.6, -20.4, -22.2]), (44.50, [-11.7, -13.5, -20.9, -22.6]),
    (44.75, [-18.5, -20.2, -21.9, -23.5]), (45.00, [-17.9, -19.6, -21.3, -23.0]),
    (45.25, [-18.8, -20.5, -22.2]), (45.50, [-17.4, -19.1, -20.8, -22.5, -10.2, -12.6]),
    (45.75, [-18.2, -19.9, -21.6, -9.1, -11.4, -13.7]), (46.00, [-17.0, -18.7, -20.4, -22.1, -9.8, -12.0]),
    (46.25, [-17.7, -19.4, -21.1, -8.7, -11.1, -13.3]), (46.50, [-16.5, -18.2, -19.9, -21.5, -10.4, -12.7]),
    (46.75, [-17.2, -18.9, -20.6, -9.0, -11.3]), (47.00, [-15.9, -17.6, -19.3, -21.0, -8.4, -10.6, -12.9]),
    (47.25, [-14.8, -16.5, -18.2, -19.8]), (47.50, [-15.4, -17.1, -18.8, -8.0, -10.2]),
    (47.75, [-14.2, -15.9, -17.6, -19.2, -7.3, -9.6]), (48.00, [-14.9, -16.6, -18.3, -8.5, -10.7]),
    (48.25, [-13.7, -15.4, -17.1, -18.7, -6.9, -9.1]), (48.50, [-14.3, -16.0, -17.7, -7.8, -10.0]),
    (48.75, [-13.2, -14.9, -16.6, -18.2, -6.5, -8.7]), (49.00, [-13.9, -15.6, -17.3, -7.2, -9.4]),
    (49.25, [-4.5, -6.3, -8.1, -13.4, -15.6]), (49.50, [-3.9, -5.7, -7.5, -9.2, -14.5]),
    (49.75, [-5.0, -6.8, -8.6, -12.8, -16.2]), (50.00, [-4.2, -6.0, -7.8, -9.5, -13.9]),
    (50.25, [-3.4, -5.2, -7.0, -8.8]), (50.50, [-4.6, -6.4, -8.2]),
    (50.75, [-2.9, -4.7, -6.5, -8.3]), (51.00, [-3.8, -5.6, -7.4]),
    (51.25, [-2.3, -4.1, -5.9, -7.6]), (51.50, [-3.1, -4.9, -6.7]),
    (51.75, [-1.7, -3.5, -5.3, -7.0]), (52.00, [-2.6, -4.4, -6.2]),
    (52.25, [-1.2, -3.0, -4.8, -6.5]), (52.50, [-2.0, -3.8, -5.6]),
    (52.75, [-0.6, -2.4, -4.2, -6.0]), (53.00, [-1.5, -3.3, -5.1]),
    (53.25, [0.2, -1.6, -3.4]), (53.50, [0.8, -1.0, -2.8, -6.1, -8.4]),
    (53.75, [-0.3, -2.1, -3.9, -5.2, -7.6, -9.7]), (54.00, [1.3, -0.5, -2.3, -6.8, -8.9]),
    (54.25, [0.5, -1.3, -3.1, -5.5, -7.9]), (54.50, [1.9, 0.1, -1.7, -6.3]),
    (54.75, [2.4, 0.6, -1.2]), (55.00, [3.0, 1.2, -0.6, -1.9]),
    (55.25, [2.1, 0.3, 3.9]), (55.50, [3.5, 1.7, -0.1]),
    (55.75, [4.2, 2.4, 0.6, -0.9]), (56.00, [4.8, 3.0, 1.2]),
    (56.25, [5.4, 3.6, 1.8, 0.0]), (56.50, [6.1, 4.3, 2.5]),
    (56.75, [6.7, 4.9, 3.1]), (57.00, [7.4, 5.6]),
    (57.25, [8.0, 6.2, -0.6, -2.8]), (57.50, [1.5, -0.9, -3.2, -5.4]),
    (57.75, [6.4, 2.0, -0.2, -2.4, -4.6]), (58.00, [8.3, 7.1, 1.2, -1.0, -3.1]),
    (58.25, [9.2, 2.4, 0.3, -1.8, -4.0]), (58.50, [7.6, 1.6, -0.5, -2.6]),
    (58.75, [9.8, 8.6, 2.2, 0.0, -2.1]), (59.00, [10.4, 1.4, -0.9]),
]

# Further laser readings logged between the rows above
laser_rows_b = [
    (0.125, [20.7, 17.8, 23.0]), (0.375, [19.6, 22.4, 24.6]), (0.625, [17.1, 20.9, 23.3]),
    (0.875, [18.1, 21.9, 19.7]),
    (2.375, [20.0, 22.8, 26.1]), (2.625, [19.1, 21.2, 23.3]), (2.875, [18.4, 20.3, 21.6]),
    (3.125, [19.5, 20.9, 22.2]), (3.375, [18.9, 21.1, 19.6]), (3.625, [19.3, 20.7, 21.9]),
    (3.875, [18.2, 19.8, 21.4]), (4.125, [19.1, 20.2, 21.8]), (4.375, [18.6, 21.3, 19.9]),
    (4.625, [18.3, 19.6, 21.1]), (4.875, [19.2, 20.5, 21.8]),
    (5.125, [24.6, 26.0]), (5.375, [24.4, 25.9, 26.6]), (5.625, [23.9, 25.2, 26.4]),
    (5.875, [24.7, 25.8, 26.7]), (6.125, [23.6, 24.9, 26.0]), (6.375, [24.5, 25.7, 26.9]),
    (6.625, [24.1, 25.5, 26.1]), (6.875, [23.3, 25.0, 25.9]), (7.125, [23.5, 24.7, 25.9]),
    (7.375, [23.0, 24.4, 25.5]), (7.625, [22.0, 23.1, 24.3]),
    (7.875, [14.5, 17.5, 19.1]), (8.125, [15.3, 16.9, 18.8]), (8.375, [14.1, 16.3, 19.8]),
    (8.625, [13.7, 17.3, 18.6]), (8.875, [14.9, 16.1, 19.2]), (9.125, [13.2, 17.0, 18.3]),
    (9.375, [15.2, 16.8, 19.0, 23.5]), (9.625, [13.9, 17.5, 22.3]), (9.875, [14.7, 16.2, 18.4]),
    (10.125, [13.4, 15.3, 17.2]), (10.375, [12.4, 16.0, 18.6]), (10.625, [14.1, 15.8, 17.6]),
    (10.875, [13.0, 16.6, 18.9]), (11.125, [12.2, 14.9, 17.4]), (11.375, [13.8, 15.6, 19.2]),
    (11.625, [12.7, 16.4, 18.1]), (11.875, [13.3, 14.7, 17.0]), (12.125, [12.0, 16.0, 18.3]),
    (12.375, [13.2, 15.0, 17.9]),
    (12.625, [12.1, 14.6, 16.8]), (12.875, [11.4, 13.8, 17.4]), (13.125, [12.6, 14.3, 16.3]),
    (13.375, [11.0, 14.6, 17.8]), (13.625, [12.3, 13.7, 16.0]), (13.875, [11.5, 14.4, 16.9]),
    (14.125, [10.5, 13.6, 15.6]), (14.375, [12.0, 14.0, 17.2]), (14.625, [11.0, 13.6, 15.4]),
    (14.875, [10.1, 12.7, 16.1]),
    (15.125, [11.0, 12.8, 14.5]), (15.375, [9.6, 12.7, 15.6]), (15.625, [10.9, 13.4, 14.3]),
    (15.875, [9.8, 12.0, 15.0]), (16.125, [10.6, 12.2, 14.0]), (16.375, [9.4, 11.4, 13.5]),
    (16.625, [8.4, 11.1, 13.7]), (16.875, [9.2, 10.8, 12.6]), (17.125, [8.0, 10.6, 13.2]),
    (17.375, [8.6, 10.1, 12.1]),
    (17.625, [7.2, 9.0, 11.8]), (17.875, [7.8, 9.6, 12.3]), (18.125, [6.6, 8.6, 11.1]),
    (18.375, [7.4, 9.2, 12.6, 14.2]), (18.625, [6.2, 8.1, 10.9]), (18.875, [7.0, 9.7, 11.5]),
    (19.125, [5.8, 8.3, 10.1]), (19.375, [6.5, 8.0, 11.3]), (19.625, [5.3, 7.1, 9.8]),
    (19.875, [6.0, 8.6, 10.4]),
    (20.125, [4.5, 6.6, 8.2, 12.0]), (20.375, [3.9, 6.9, 9.6]), (20.625, [4.8, 5.5, 8.9]),
    (20.875, [3.4, 6.1, 7.9]), (21.125, [4.3, 5.2, 8.7]), (21.375, [3.0, 5.8, 7.5]),
    (21.625, [2.6, 4.6, 8.0]), (21.875, [3.5, 6.2, 7.1]),
    (22.125, [2.3, 4.1, 6.0]), (22.375, [1.4, 3.9, 5.7]), (22.625, [2.1, 3.6, 6.6]),
    (22.875, [0.8, 2.6, 5.0]), (23.125, [1.6, 3.1, 4.8]), (23.375, [0.4, 2.3, 5.1]),
    (23.625, [1.1, 2.8, 4.4]), (23.875, [-0.4, 1.8, 3.5]), (24.125, [0.6, 2.2, 3.9]),
    (24.375, [-0.9, 1.2, 3.0]), (24.625, [-0.2, 1.8, 3.4]), (24.875, [-1.2, 0.5, 2.4]),
    (25.125, [-2.1, 0.1, 1.9]), (25.375, [-1.4, 0.5, 2.2]), (25.625, [-2.6, -0.6, 1.1]),
    (25.875, [-1.8, 0.3, 2.6]), (26.125, [-3.1, -1.1, 0.6]), (26.375, [-2.4, -0.5, 1.7]),
    (26.625, [-3.6, -1.7, 0.0]), (26.875, [-2.9, -0.7, 1.0]), (27.125, [-4.2, -2.3, -0.5]),
    (27.375, [-3.4, -1.2, 0.6]), (27.625, [-4.8, -2.9, -1.1]), (27.875, [-4.1, -2.6, -0.2]),
    (28.125, [-5.3, -3.3, -1.1]), (28.375, [-6.2, -4.0, -2.0]), (28.625, [-5.6, -3.7, -1.9]),
    (28.875, [-6.9, -4.6, -2.9]), (29.125, [-6.4, -4.4, -2.4]), (29.375, [-7.5, -5.6, -3.7]),
    (29.625, [-7.1, -5.0, -3.1]), (29.875, [-8.2, -6.3, -4.2]),
    (30.125, [-8.9, -6.9, -5.2]), (30.375, [-9.7, -7.3, -5.0]), (30.625, [-9.2, -7.6, -5.9]),
    (30.875, [-10.6, -8.0, -6.1]), (31.125, [-9.8, -7.9, -4.9]), (31.375, [-10.9, -8.6, -6.8]),
    (31.625, [-10.2, -8.9, -6.0]), (31.875, [-11.5, -9.0, -7.3]), (32.125, [-10.9, -9.4, -7.5]),
    (32.375, [-12.0, -9.9, -7.9]), (32.625, [-11.4, -8.3, -5.0]), (32.875, [-12.5, -10.0, -7.2]),
    (33.125, [-11.9, -10.2, -8.6]), (33.375, [-13.0, -11.4, -8.2]), (33.625, [-12.6, -10.8, -9.3]),
    (33.875, [-13.5, -11.2, -8.7]), (34.125, [-13.1, -11.5, -9.7]), (34.375, [-14.2, -12.6, -9.1]),
    (34.625, [-13.6, -11.9, -10.3]), (34.875, [-14.5, -12.1, -9.6]),
    (35.125, [-14.0, -12.2, -10.5]), (35.375, [-15.2, -13.3, -11.7]), (35.625, [-14.4, -12.6, -10.0]),
    (35.875, [-15.6, -12.9, -11.1]), (36.125, [-14.9, -13.1, -11.4]), (36.375, [-15.8, -14.0, -10.7]),
    (36.625, [-14.1, -12.4, -10.9]), (36.875, [-15.5, -13.9, -11.3]), (37.125, [-14.8, -12.2, -10.5]),
    (37.375, [-15.4, -13.8, -9.6]), (37.625, [-16.0, -14.2, -8.9]),
    (37.875, [-17.2, -19.1, -21.3]), (38.125, [-18.7, -20.6, -22.4]),
    (38.375, [-17.9, -20.1, -21.8, -12.4]), (38.625, [-19.2, -21.2, -23.4, -11.6]),
    (38.875, [-18.4, -20.9, -22.0, -13.0]), (39.125, [-19.8, -21.7, -23.9, -11.2]),
    (39.375, [-18.8, -20.4, -22.5]), (39.625, [-20.2, -22.0, -24.0]), (39.875, [-19.5, -21.1, -22.9]),
    (40.125, [-20.5, -22.4, -24.6]), (40.375, [-19.8, -21.6, -23.3]), (40.625, [-20.9, -22.6, -24.9]),
    (40.875, [-20.2, -21.9, -23.6]), (41.125, [-21.1, -22.9, -25.2]), (41.375, [-20.4, -22.2, -23.9]),
    (41.625, [-21.3, -23.1, -25.5]), (41.875, [-20.6, -22.5, -24.2]), (42.125, [-21.5, -23.3, -25.7]),
    (42.375, [-20.8, -22.6, -24.4]), (42.625, [-21.7, -23.6, -25.9]), (42.875, [-21.0, -22.9, -24.6]),
    (43.125, [-21.9, -23.8, -26.0]), (43.375, [-20.9, -23.3, -25.2]),
    (43.625, [-11.1, -13.4, -20.5, -22.9]), (43.875, [-11.9, -14.6, -20.1, -22.3]),
    (44.125, [-10.6, -13.8, -19.5, -21.8]), (44.375, [-12.3, -14.2, -19.0, -22.0]),
    (44.625, [-18.2, -20.7, -22.9]), (44.875, [-19.0, -21.1, -22.5]), (45.125, [-17.6, -20.0, -22.3]),
    (45.375, [-18.5, -19.9, -21.7, -11.4]), (45.625, [-17.1, -19.6, -21.2, -10.0, -13.1]),
    (45.875, [-18.0, -20.5, -10.6, -12.4]), (46.125, [-16.8, -19.0, -21.3, -9.4, -12.9]),
    (46.375, [-17.5, -18.8, -20.7, -10.1, -11.8]), (46.625, [-16.3, -18.6, -20.4, -9.6, -12.1]),
    (46.875, [-16.9, -18.4, -21.2, -10.0]), (47.125, [-15.3, -17.2, -19.8, -9.2, -11.5]),
    (47.375, [-14.5, -16.9, -18.5, -8.6]), (47.625, [-15.9, -17.9, -19.5, -8.8, -10.9]),
    (47.875, [-14.6, -16.3, -18.8, -7.7, -10.4]), (48.125, [-14.1, -16.0, -17.9, -7.5, -9.9]),
    (48.375, [-13.8, -15.7, -18.0, -8.2]), (48.625, [-14.7, -16.4, -17.2, -7.0, -9.5]),
    (48.875, [-13.4, -15.3, -17.7, -6.9, -8.3]), (49.125, [-14.2, -16.1, -5.5, -7.6]),
    (49.375, [-5.2, -7.1, -14.0, -16.0]), (49.625, [-4.4, -6.5, -8.9, -13.1]),
    (49.875, [-5.6, -7.3, -15.1]), (50.125, [-3.8, -5.5, -8.3, -12.9]),
    (50.375, [-4.1, -6.1, -7.7]), (50.625, [-3.3, -5.0, -7.5]), (50.875, [-4.3, -6.0, -8.7]),
    (51.125, [-2.7, -4.4, -6.6]), (51.375, [-3.5, -5.4, -7.2]), (51.625, [-2.2, -4.0, -6.1]),
    (51.875, [-3.0, -5.0, -6.8]), (52.125, [-1.8, -3.6, -5.4]), (52.375, [-2.5, -4.3, -6.0]),
    (52.625, [-1.2, -3.2, -5.0]), (52.875, [-0.9, -2.9, -4.6]), (53.125, [-0.4, -2.2, -4.0]),
    (53.375, [0.5, -1.3, -3.0, -7.2]), (53.625, [-0.6, -2.4, -5.6, -9.0]),
    (53.875, [0.9, -1.1, -6.5, -8.1]), (54.125, [0.1, -1.9, -5.9, -9.4]),
    (54.375, [1.4, -0.8, -2.6, -7.1]), (54.625, [2.1, -0.3, -5.8]), (54.875, [2.7, 0.9, -0.9]),
    (55.125, [3.3, 1.5, -0.3]), (55.375, [2.8, 0.8, -1.5]), (55.625, [3.9, 2.0, 0.2]),
    (55.875, [4.5, 2.7, 0.9]), (56.125, [5.1, 3.3, 1.5]), (56.375, [5.8, 3.9, 2.1]),
    (56.625, [6.4, 4.6, 2.8]), (56.875, [7.0, 5.3]), (57.125, [7.7, 5.9, -1.6]),
    (57.375, [0.8, -2.0, -4.3]), (57.625, [7.0, 1.0, -1.5, -3.8]), (57.875, [8.9, 0.6, -3.5]),
    (58.125, [7.9, 1.9, -0.2, -2.3]), (58.375, [9.5, 1.1, -1.4, -3.6]),
    (58.625, [8.2, 2.7, -0.8, -1.7]), (58.875, [10.1, 1.8, -0.3]),
]

x_ticks = list(range(0, 61, 5))
alt_ticks = list(range(0, 14001, 1000))
temp_ticks = list(range(-100, 41, 10))

legend_labels = ["Altitude", "Laser Temp", "Battery Temp",
                 "Interior Ambient Temp", "Exterior Air Temp (ISA Model)"]

# ---------------- styling ----------------
RED = "#d31212"
GREEN = "#2fb52a"
BLUE = "#0c0cc4"
YELLOW = "#fbee0a"

sns.set_theme(style="ticks")
plt.rcParams["font.family"] = ["DejaVu Sans"]
plt.rcParams["axes.unicode_minus"] = False
plt.rcParams["text.color"] = "black"


def rows_to_frame(rows):
    tt, vv = [], []
    for t, vals in rows:
        for v in vals:
            tt.append(t)
            vv.append(v)
    return pd.DataFrame({"t": tt, "v": vv})


laser_df = rows_to_frame(laser_rows + laser_rows_b)
battery_df = rows_to_frame(battery_rows + battery_rows_b)
alt_df = pd.DataFrame({"t": alt_time, "alt": alt_m, "seg": alt_seg})
amb_df = pd.DataFrame({"t": amb_time, "v": amb_temp, "seg": amb_seg})
isa_df = pd.DataFrame({"t": isa_time, "v": isa_temp})

W, H = 1688, 1136
fig = plt.figure(figsize=(W / 100, H / 100), dpi=100)
fig.patch.set_facecolor("white")
ax = fig.add_axes([187 / W, 1 - 1026 / H, (1545 - 187) / W, (1026 - 38) / H])
ax2 = ax.twinx()

# altitude on the primary (left) axis, drawn underneath
sns.lineplot(data=alt_df, x="t", y="alt", units="seg", estimator=None, sort=False,
             color=RED, linewidth=4.3, solid_capstyle="round", ax=ax, legend=False)

# temperatures on the right axis
sns.scatterplot(data=laser_df, x="t", y="v", color=GREEN, s=24, linewidth=0, ax=ax2, legend=False)
sns.scatterplot(data=battery_df, x="t", y="v", color=BLUE, s=24, linewidth=0, ax=ax2, legend=False)
sns.lineplot(data=amb_df, x="t", y="v", units="seg", estimator=None, sort=False,
             color=YELLOW, linewidth=5.8, solid_capstyle="round", ax=ax2, legend=False)
sns.lineplot(data=isa_df, x="t", y="v", estimator=None, sort=False, color="black",
             linewidth=3, marker="s", markersize=12, markeredgewidth=0, ax=ax2, legend=False)

ax.set_xlim(0, 60)
ax.set_ylim(0, 14000)
ax2.set_ylim(-100, 40)
ax.set_xticks(x_ticks)
ax.set_yticks(alt_ticks)
ax2.set_yticks(temp_ticks)
for a in (ax, ax2):
    a.set_xlabel("")
    a.set_ylabel("")
    a.grid(False)

ax.tick_params(axis="y", direction="out", length=6.5, width=1.2, pad=9, labelsize=18,
               left=True, colors="black")
ax.tick_params(axis="x", direction="out", length=6.5, width=1.2, pad=15, labelsize=18,
               bottom=True, colors="black")
ax2.tick_params(axis="y", direction="inout", length=13, width=1.2, pad=8, labelsize=18,
                right=True, colors="black")

for s in ("left", "bottom"):
    ax.spines[s].set_color("black")
    ax.spines[s].set_linewidth(1.3)
ax.spines["top"].set_visible(True)
ax.spines["top"].set_color("#8a8a8a")
ax.spines["top"].set_linewidth(1.2)
ax.spines["right"].set_visible(False)
for s in ("left", "bottom", "top"):
    ax2.spines[s].set_visible(False)
ax2.spines["right"].set_visible(True)
ax2.spines["right"].set_color("black")
ax2.spines["right"].set_linewidth(1.3)

for lab in ax.get_xticklabels() + ax.get_yticklabels() + ax2.get_yticklabels():
    lab.set_fontweight("bold")
    lab.set_color("black")

fig.text(865 / W, 1 - 1112 / H, "T+min", ha="center", va="center",
         fontsize=17, fontweight="bold", color="black")
fig.text(48 / W, 1 - 533 / H, "Altitude (m)", ha="center", va="center",
         rotation=90, fontsize=17, fontweight="bold", color="black")
fig.text(1663 / W, 1 - 532 / H, "Temperature (°C)", ha="center", va="center",
         rotation=90, fontsize=17, fontweight="bold", color="black")

# legend box
box = Rectangle((637 / W, 1 - 958 / H), (1095 - 637) / W, (958 - 742) / H,
                transform=fig.transFigure, facecolor="white", edgecolor="black",
                linewidth=4.5, zorder=4)
fig.add_artist(box)
handles = [
    Line2D([], [], ls="none", marker="o", ms=3.5, color=RED),
    Line2D([], [], ls="none", marker="o", ms=3.5, color=GREEN),
    Line2D([], [], ls="none", marker="o", ms=3.5, color=BLUE),
    Line2D([], [], ls="none", marker="o", ms=3.5, color=YELLOW),
    Line2D([], [], color="black", lw=3, marker="s", ms=10, markeredgewidth=0),
]
leg = fig.legend(handles, legend_labels, loc="upper left",
                 bbox_to_anchor=(710 / W, 1 - 753 / H), bbox_transform=fig.transFigure,
                 frameon=False, fontsize=15, handlelength=2.34, handletextpad=0.3,
                 labelspacing=0.88, borderpad=0, borderaxespad=0)
for txt in leg.get_texts():
    txt.set_color("black")
leg.set_zorder(5)

# dark frame strips at top and left edges of the picture
fig.add_artist(Rectangle((0, 1 - 5 / H), 1, 5 / H, transform=fig.transFigure,
                         facecolor="black", edgecolor="none", zorder=10))
fig.add_artist(Rectangle((0, 0), 7 / W, 1, transform=fig.transFigure,
                         facecolor="black", edgecolor="none", zorder=10))

fig.savefig("out.png", dpi=100, facecolor="white")
